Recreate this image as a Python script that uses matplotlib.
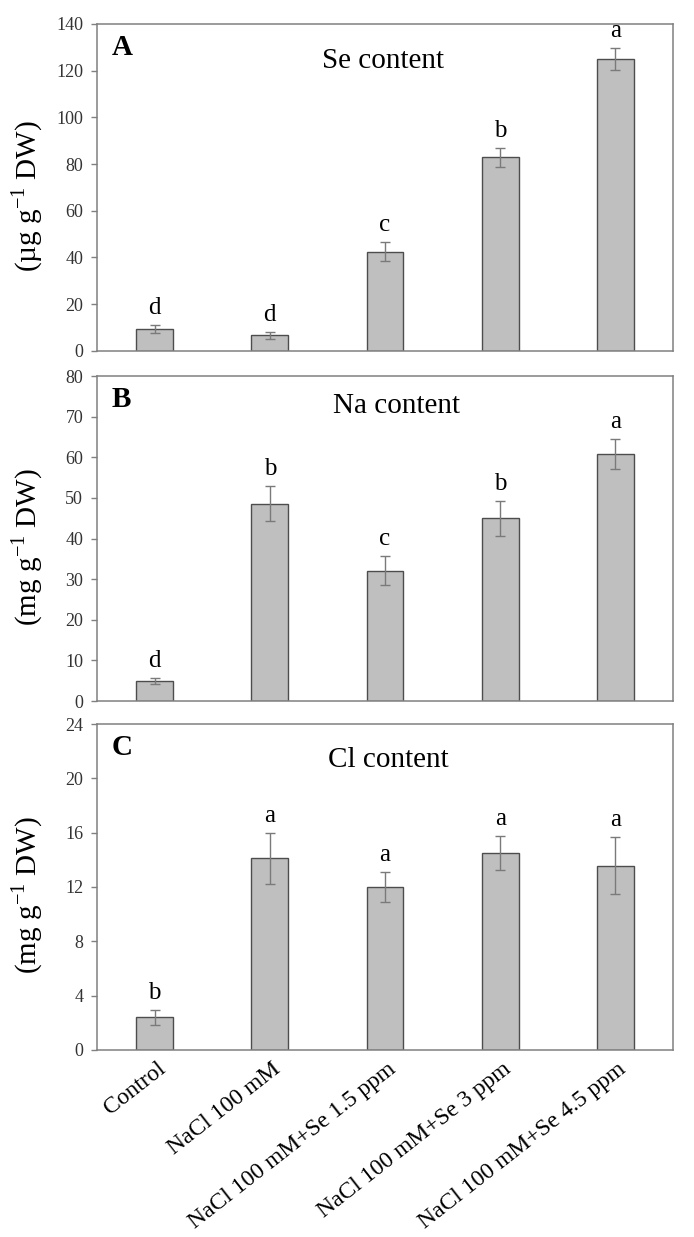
import matplotlib
matplotlib.use("Agg")
import matplotlib.pyplot as plt
import matplotlib.transforms as mtransforms
import numpy as np

plt.rcParams['font.family'] = ['Liberation Serif', 'DejaVu Serif']
plt.rcParams['mathtext.fontset'] = 'custom'
plt.rcParams['mathtext.rm'] = 'Liberation Serif'

treatments = ['Control', 'NaCl 100 mM', 'NaCl 100 mM+Se 1.5 ppm',
              'NaCl 100 mM+Se 3 ppm', 'NaCl 100 mM+Se 4.5 ppm']

se_mean = [9.4, 6.7, 42.5, 82.9, 125.0]
se_err = [1.7, 1.5, 4.0, 4.0, 4.8]
se_letters = ['d', 'd', 'c', 'b', 'a']

na_mean = [5.0, 48.6, 32.1, 45.0, 60.8]
na_err = [0.75, 4.3, 3.5, 4.3, 3.7]
na_letters = ['d', 'b', 'c', 'b', 'a']

cl_mean = [2.4, 14.1, 12.0, 14.5, 13.55]
cl_err = [0.55, 1.85, 1.1, 1.25, 2.1]
cl_letters = ['b', 'a', 'a', 'a', 'a']

fig = plt.figure(figsize=(6.94, 12.37), dpi=100)

frame_col = '#808080'
x = np.arange(len(treatments))


def panel(rect, mean, err, letters, ymax, ystep, tag, title, title_x, title_y, ylabel):
    ax = fig.add_axes(rect)
    ax.bar(x, mean, width=0.32, color='#bfbfbf', edgecolor='#4d4d4d', linewidth=1.0, zorder=2)
    ax.errorbar(x, mean, yerr=err, fmt='none', ecolor='#7a7a7a', elinewidth=1.0,
                capsize=3.5, capthick=1.0, zorder=3)
    for xi, m, e, lab in zip(x, mean, err, letters):
        ax.annotate(lab, (xi, m + e), xytext=(0, 8), textcoords='offset points',
                    ha='center', va='baseline', fontsize=18)
    ax.set_xlim(-0.5, 4.5)
    ax.set_ylim(0, ymax)
    ax.set_yticks(np.arange(0, ymax + 0.1, ystep))
    ax.tick_params(axis='y', direction='out', length=4, width=1, color=frame_col,
                   labelsize=13, labelcolor='#333333', pad=6)
    ax.tick_params(axis='x', length=0)
    for s in ax.spines.values():
        s.set_color(frame_col)
        s.set_linewidth(1.1)
    ax.text(0.026, 0.905, tag, transform=ax.transAxes, fontsize=21, fontweight='bold',
            ha='left', va='baseline')
    ax.text(title_x, title_y, title, transform=ax.transAxes, fontsize=21,
            ha='center', va='baseline')
    ax.set_ylabel(ylabel, fontsize=21)
    ax.yaxis.set_label_coords(-0.09, 0.475)
    return ax


axA = panel([0.1398, 0.7163, 0.830, 0.2644], se_mean, se_err, se_letters, 140, 20,
            'A', 'Se content', 0.496, 0.865, '(\u00b5g g$^{\\mathrm{-1}}$ DW)')
axB = panel([0.1398, 0.4333, 0.830, 0.2627], na_mean, na_err, na_letters, 80, 10,
            'B', 'Na content', 0.52, 0.885, '(mg g$^{\\mathrm{-1}}$ DW)')
axC = panel([0.1398, 0.1512, 0.830, 0.2635], cl_mean, cl_err, cl_letters, 24, 4,
            'C', 'Cl content', 0.506, 0.868, '(mg g$^{\\mathrm{-1}}$ DW)')

for ax in (axA, axB):
    ax.set_xticks(x)
    ax.set_xticklabels([])

axC.set_xticks(x)
axC.set_xticklabels(treatments, rotation=38, ha='right', va='top',
                    rotation_mode='anchor', fontsize=17)
axC.tick_params(axis='x', pad=6)
offset = mtransforms.ScaledTranslation(2 / 100, 0, fig.dpi_scale_trans)
for lab in axC.get_xticklabels():
    lab.set_transform(lab.get_transform() + offset)

fig.savefig('out.png', dpi=100)
